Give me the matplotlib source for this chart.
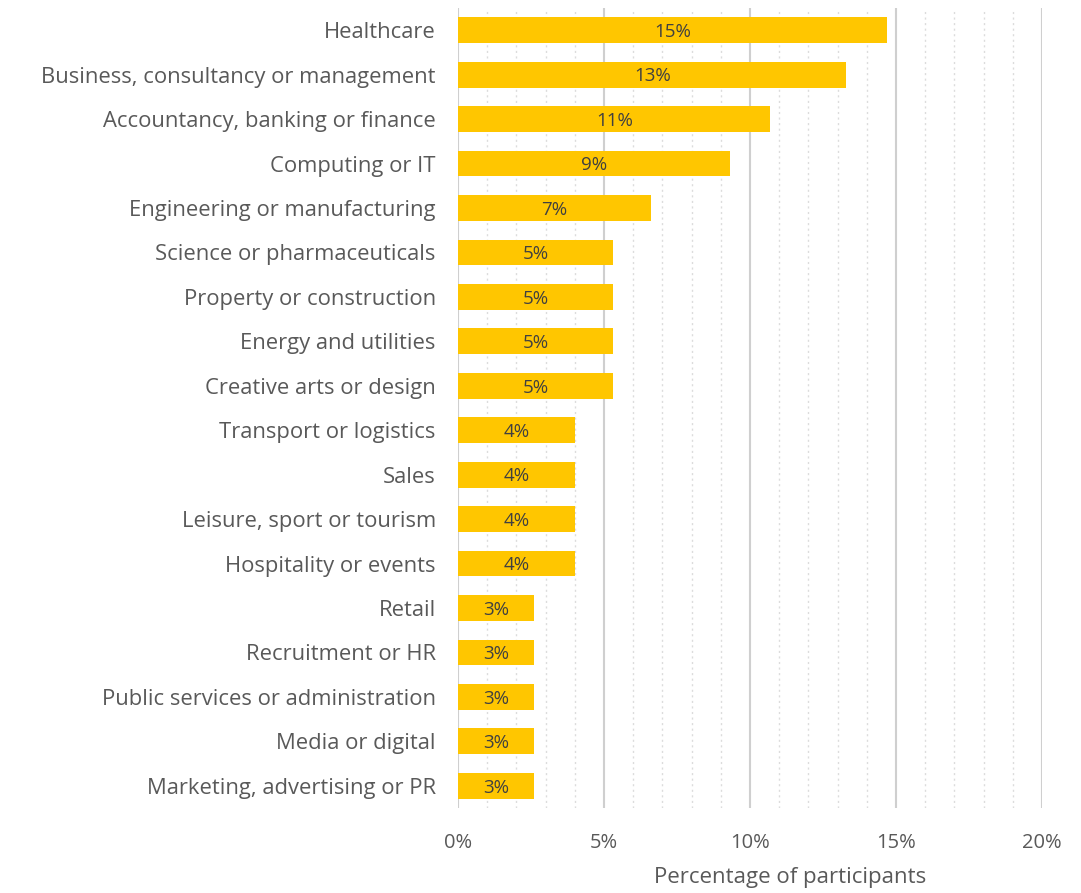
import matplotlib.pyplot as plt
from matplotlib.ticker import MultipleLocator, FuncFormatter

plt.rcParams['font.family'] = ['Open Sans', 'DejaVu Sans']

sectors = [
    "Healthcare",
    "Business, consultancy or management",
    "Accountancy, banking or finance",
    "Computing or IT",
    "Engineering or manufacturing",
    "Science or pharmaceuticals",
    "Property or construction",
    "Energy and utilities",
    "Creative arts or design",
    "Transport or logistics",
    "Sales",
    "Leisure, sport or tourism",
    "Hospitality or events",
    "Retail",
    "Recruitment or HR",
    "Public services or administration",
    "Media or digital",
    "Marketing, advertising or PR",
]
share = [14.7, 13.3, 10.7, 9.3, 6.6, 5.3, 5.3, 5.3, 5.3,
         4.0, 4.0, 4.0, 4.0, 2.6, 2.6, 2.6, 2.6, 2.6]

text_grey = "#595959"

fig = plt.figure(figsize=(10.81, 8.93), dpi=100)
ax = fig.add_axes([0.4237, 0.0952, 0.5403, 0.8958])

ypos = list(range(len(sectors)))
ax.barh(ypos, share, height=0.58, color="#FFC600", zorder=3)
for y, v in zip(ypos, share):
    ax.text(v / 2, y + 0.04, f"{v:.0f}%", ha="center", va="center",
            fontsize=13.5, color="#404040", zorder=4)

ax.set_yticks(ypos)
ax.set_yticklabels(sectors)
ax.set_ylim(len(sectors) - 0.5, -0.5)
ax.set_xlim(0, 20)

ax.xaxis.set_major_locator(MultipleLocator(5))
ax.xaxis.set_minor_locator(MultipleLocator(1))
ax.xaxis.set_major_formatter(FuncFormatter(lambda x, _: f"{x:.0f}%"))
ax.grid(axis="x", which="major", color="#cfcfcf", linewidth=1.5, zorder=0)
ax.grid(axis="x", which="minor", color="#dcdcdc", linewidth=1, linestyle=(0, (1.5, 2.5)), zorder=0)

ax.tick_params(axis="both", which="both", length=0)
ax.tick_params(axis="y", labelsize=15.8, labelcolor=text_grey, pad=16)
ax.tick_params(axis="x", labelsize=14.5, labelcolor=text_grey, pad=18)
for s in ax.spines.values():
    s.set_visible(False)

ax.set_xlabel("Percentage of participants", fontsize=16, color=text_grey)
ax.xaxis.set_label_coords(0.568, -0.0875)
ax.xaxis.label.set_va("center")

fig.savefig("out.png", dpi=100)
